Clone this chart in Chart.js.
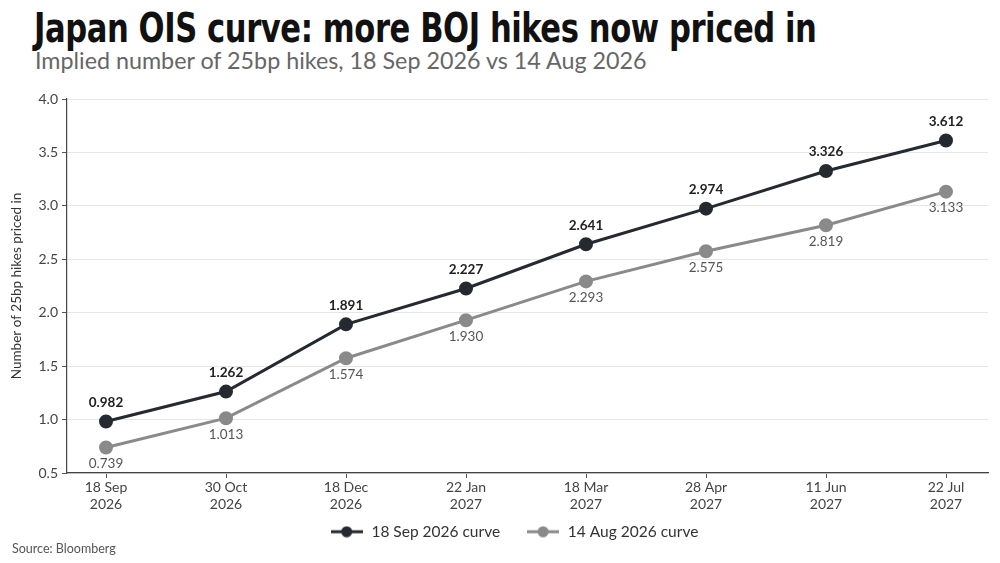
<!DOCTYPE html>
<html>
<head>
<meta charset="utf-8">
<script src="https://cdn.jsdelivr.net/npm/chart.js@4"></script>
<style>
  html, body { margin: 0; padding: 0; background: #fff; }
  body { width: 1000px; height: 563px; position: relative; overflow: hidden; font-family: Lato, "Noto Sans", sans-serif; }
  #title { position: absolute; left: 34px; top: 4px; font-family: "Liberation Sans Narrow", "DejaVu Sans Condensed", sans-serif; font-weight: bold; font-size: 41px; color: #111; letter-spacing: -0.5px; white-space: nowrap; transform: scaleX(0.83); transform-origin: left top; }
  #subtitle { position: absolute; left: 35px; top: 46px; font-size: 23.3px; color: #666; white-space: nowrap; }
  #source { position: absolute; left: 12px; top: 541px; font-size: 12.5px; color: #555; }
  #wrap { position: absolute; left: 0; top: 0; width: 1000px; height: 563px; }
</style>
</head>
<body>
<div id="title">Japan OIS curve: more BOJ hikes now priced in</div>
<div id="subtitle">Implied number of 25bp hikes, 18 Sep 2026 vs 14 Aug 2026</div>
<div id="wrap"><canvas id="oisChart"></canvas></div>
<div id="source">Source: Bloomberg</div>
<script>
const dateLabels = [
    ["18 Sep", "2026"], ["30 Oct", "2026"], ["18 Dec", "2026"], ["22 Jan", "2027"],
    ["18 Mar", "2027"], ["28 Apr", "2027"], ["11 Jun", "2027"], ["22 Jul", "2027"]
];
const sepCurve = [0.982, 1.262, 1.891, 2.227, 2.641, 2.974, 3.326, 3.612];
const augCurve = [0.739, 1.013, 1.574, 1.930, 2.293, 2.575, 2.819, 3.133];
const yTicks = [0.5, 1.0, 1.5, 2.0, 2.5, 3.0, 3.5, 4.0];

const darkColor = "#252a31";
const greyColor = "#8a8a8a";
const fontFamily = "Lato, 'Noto Sans', sans-serif";

function legendMarker(color) {
    const c = document.createElement("canvas");
    c.width = 32;
    c.height = 12;
    const ctx = c.getContext("2d");
    ctx.strokeStyle = color;
    ctx.lineWidth = 3;
    ctx.beginPath();
    ctx.moveTo(0, 6);
    ctx.lineTo(32, 6);
    ctx.stroke();
    ctx.fillStyle = color;
    ctx.beginPath();
    ctx.arc(16, 6, 5.5, 0, Math.PI * 2);
    ctx.fill();
    return c;
}

const valueLabels = {
    id: "valueLabels",
    afterDatasetsDraw(chart) {
        const ctx = chart.ctx;
        ctx.save();
        ctx.textAlign = "center";
        ctx.textBaseline = "middle";
        chart.data.datasets.forEach((ds, i) => {
            const meta = chart.getDatasetMeta(i);
            meta.data.forEach((pt, j) => {
                const v = ds.data[j].y.toFixed(3);
                if (i === 0) {
                    ctx.font = "bold 13.5px " + fontFamily;
                    ctx.fillStyle = "#222";
                    ctx.fillText(v, pt.x, pt.y - 19);
                } else {
                    ctx.font = "13.5px " + fontFamily;
                    ctx.fillStyle = "#555";
                    ctx.fillText(v, pt.x, pt.y + 16);
                }
            });
        });
        ctx.restore();
    }
};

// legend: a bit shorter than Chart.js makes it, and nudged into place
const legendTweak = {
    id: "legendTweak",
    beforeLayout(chart) {
        const lg = chart.legend;
        if (!lg || lg._tweaked) return;
        const fit = lg.fit.bind(lg);
        lg.fit = function () {
            fit();
            this.height -= 3.5;
        };
        lg._tweaked = true;
    },
    afterLayout(chart) {
        if (!chart.legend) return;
        chart.legend.left += 20;
        chart.legend.right += 20;
        chart.legend.top -= 17;
        chart.legend.bottom -= 17;
    }
};

const toPoints = arr => arr.map((v, i) => ({ x: i, y: v }));

new Chart(document.getElementById("oisChart"), {
    type: "line",
    data: {
        datasets: [{
            label: "18 Sep 2026 curve",
            data: toPoints(sepCurve),
            borderColor: darkColor,
            backgroundColor: darkColor,
            borderWidth: 3,
            pointRadius: 5.5,
            pointHoverRadius: 5.5,
            tension: 0
        }, {
            label: "14 Aug 2026 curve",
            data: toPoints(augCurve),
            borderColor: greyColor,
            backgroundColor: greyColor,
            borderWidth: 3,
            pointRadius: 5.5,
            pointHoverRadius: 5.5,
            tension: 0
        }]
    },
    options: {
        responsive: true,
        maintainAspectRatio: false,
        animation: false,
        layout: { padding: { top: 99, right: 12, left: 0, bottom: 0 } },
        plugins: {
            tooltip: { enabled: false },
            legend: {
                position: "bottom",
                labels: {
                    usePointStyle: true,
                    pointStyleWidth: 34,
                    padding: 26,
                    color: "#333",
                    font: { family: fontFamily, size: 15.5 },
                    generateLabels: chart => chart.data.datasets.map((ds, i) => ({
                        text: ds.label,
                        pointStyle: legendMarker(ds.borderColor),
                        fillStyle: ds.borderColor,
                        strokeStyle: ds.borderColor,
                        lineWidth: 0,
                        fontColor: "#333",
                        datasetIndex: i
                    }))
                }
            }
        },
        scales: {
            x: {
                type: "linear",
                min: -0.325,
                max: 7.35,
                afterBuildTicks: scale => {
                    scale.ticks = dateLabels.map((_, i) => ({ value: i }));
                },
                afterFit: scale => { scale.height = 42; },
                ticks: {
                    autoSkip: false,
                    maxRotation: 0,
                    padding: 1,
                    color: "#444",
                    font: { family: fontFamily, size: 14 },
                    callback: v => dateLabels[v]
                },
                grid: { drawOnChartArea: false, drawTicks: true, tickLength: 5, tickColor: "#555" },
                border: { display: true, color: "#444", width: 1.2 }
            },
            y: {
                min: 0.5,
                max: 4.0,
                afterBuildTicks: scale => {
                    scale.ticks = yTicks.map(v => ({ value: v }));
                },
                afterFit: scale => { scale.width = 67; },
                title: {
                    display: true,
                    text: "Number of 25bp hikes priced in",
                    color: "#333",
                    font: { family: fontFamily, size: 13.5 },
                    padding: { top: 9, bottom: 4 }
                },
                ticks: {
                    padding: 4,
                    color: "#444",
                    font: { family: fontFamily, size: 14 },
                    callback: v => v.toFixed(1)
                },
                grid: { color: "#e6e6e6", lineWidth: 1, tickLength: 5, tickColor: "#555" },
                border: { display: true, color: "#444", width: 1.2 }
            }
        }
    },
    plugins: [valueLabels, legendTweak]
});
</script>
</body>
</html>
